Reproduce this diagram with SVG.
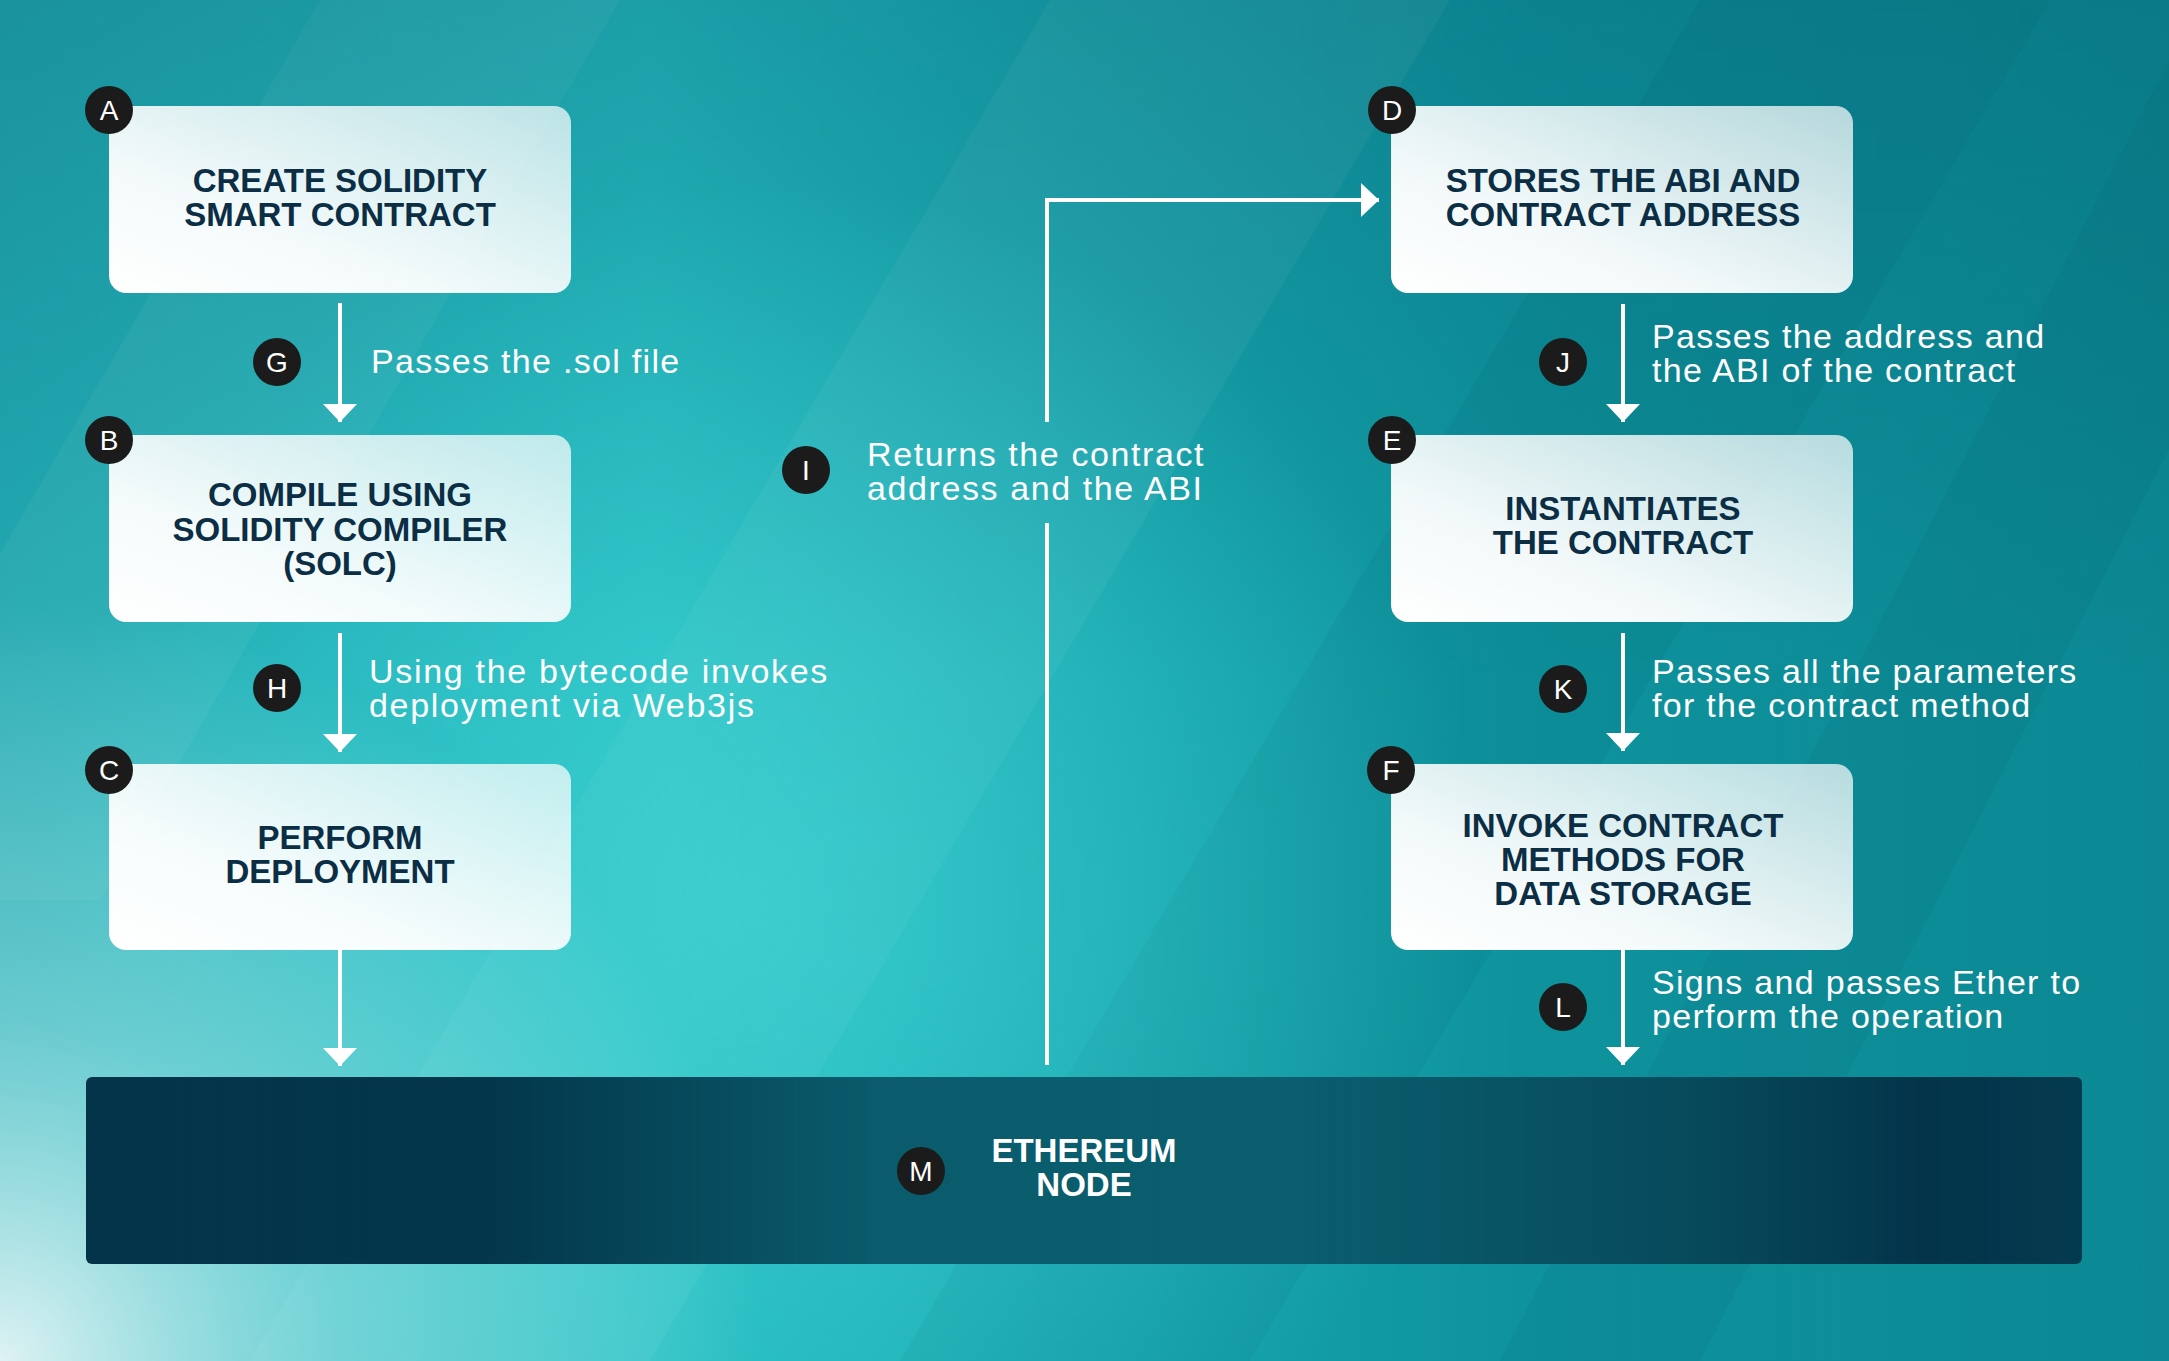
<svg xmlns="http://www.w3.org/2000/svg" width="2169" height="1361" viewBox="0 0 2169 1361">
  <defs>
    <linearGradient id="bgBase" x1="0" y1="0" x2="2169" y2="0" gradientUnits="userSpaceOnUse">
      <stop offset="0" stop-color="#22aab2"/>
      <stop offset="0.3" stop-color="#25bcc0"/>
      <stop offset="0.5" stop-color="#17a6ae"/>
      <stop offset="0.7" stop-color="#0e939d"/>
      <stop offset="1" stop-color="#0b8893"/>
    </linearGradient>
    <linearGradient id="bgTop" x1="0" y1="0" x2="0" y2="1361" gradientUnits="userSpaceOnUse">
      <stop offset="0" stop-color="#05566a" stop-opacity="0.28"/>
      <stop offset="0.5" stop-color="#05566a" stop-opacity="0"/>
      <stop offset="1" stop-color="#05566a" stop-opacity="0"/>
    </linearGradient>
    <radialGradient id="glowBL" cx="0" cy="1361" r="760" gradientUnits="userSpaceOnUse">
      <stop offset="0" stop-color="#ffffff" stop-opacity="0.85"/>
      <stop offset="0.45" stop-color="#bff1f1" stop-opacity="0.45"/>
      <stop offset="1" stop-color="#bff1f1" stop-opacity="0"/>
    </radialGradient>
    <radialGradient id="glowC" cx="760" cy="900" r="720" gradientUnits="userSpaceOnUse">
      <stop offset="0" stop-color="#46d9d9" stop-opacity="0.6"/>
      <stop offset="1" stop-color="#46d9d9" stop-opacity="0"/>
    </radialGradient>
    <linearGradient id="boxFill" x1="0" y1="1" x2="1" y2="0">
      <stop offset="0" stop-color="#ffffff" stop-opacity="1"/>
      <stop offset="0.35" stop-color="#ffffff" stop-opacity="0.95"/>
      <stop offset="1" stop-color="#ffffff" stop-opacity="0.7"/>
    </linearGradient>
    <linearGradient id="nodeFill" x1="0" y1="0" x2="1" y2="0">
      <stop offset="0" stop-color="#04344a"/>
      <stop offset="0.2" stop-color="#03364b"/>
      <stop offset="0.4" stop-color="#0a5c6c"/>
      <stop offset="0.6" stop-color="#0a5e6e"/>
      <stop offset="0.8" stop-color="#074b5d"/>
      <stop offset="0.92" stop-color="#03344a"/>
      <stop offset="1" stop-color="#043a4f"/>
    </linearGradient>
    <marker id="arrow" viewBox="0 -17 18 34" refX="18" refY="0" markerWidth="18" markerHeight="34" markerUnits="userSpaceOnUse" orient="auto">
      <path d="M0,-17 L18,0 L0,17 Z" fill="#ffffff"/>
    </marker>
    <style>
      .box { fill: url(#boxFill); }
      .title { font-family: "Liberation Sans", Arial, sans-serif; font-weight: bold; font-size: 33px; fill: #0b2e45; text-anchor: middle; }
      .label { font-family: "Liberation Sans", Arial, sans-serif; font-size: 34px; fill: #ffffff; letter-spacing: 1.3px; }
      .badge circle { fill: #1b1b1b; }
      .badge text { font-family: "Liberation Sans", Arial, sans-serif; font-size: 28px; fill: #ffffff; text-anchor: middle; }
      .conn { stroke: #ffffff; stroke-width: 4; fill: none; }
    </style>
  </defs>

  <!-- background -->
  <g id="background">
    <rect x="0" y="0" width="2169" height="1361" fill="url(#bgBase)"/>
    <polygon points="250,1361 650,1361 1450,0 1050,0" fill="#ffffff" fill-opacity="0.06"/>
    <polygon points="-200,900 100,900 620,0 320,0" fill="#ffffff" fill-opacity="0.05"/>
    <polygon points="900,1361 1250,1361 2050,0 1700,0" fill="#00485a" fill-opacity="0.08"/>
    <polygon points="1500,1361 1700,1361 2400,0 2200,0" fill="#00485a" fill-opacity="0.07"/>
    <rect x="0" y="0" width="2169" height="1361" fill="url(#bgTop)"/>
    <rect x="0" y="0" width="2169" height="1361" fill="url(#glowC)"/>
    <rect x="0" y="0" width="2169" height="1361" fill="url(#glowBL)"/>
  </g>

  <!-- connectors -->
  <g id="connectors">
    <path class="conn" d="M340,303 V422" marker-end="url(#arrow)"/>
    <path class="conn" d="M340,633 V752" marker-end="url(#arrow)"/>
    <path class="conn" d="M340,950 V1066" marker-end="url(#arrow)"/>
    <path class="conn" d="M1623,304 V422" marker-end="url(#arrow)"/>
    <path class="conn" d="M1623,633 V751" marker-end="url(#arrow)"/>
    <path class="conn" d="M1623,950 V1065" marker-end="url(#arrow)"/>
    <path class="conn" d="M1047,1065 V523"/>
    <path class="conn" d="M1047,422 V200 H1379" marker-end="url(#arrow)"/>
  </g>

  <!-- nodes -->
  <g id="node-A">
    <rect class="box" x="109" y="106" width="462" height="187" rx="17"/>
    <text class="title" x="340" y="192">CREATE SOLIDITY</text>
    <text class="title" x="340" y="226">SMART CONTRACT</text>
    <g class="badge"><circle cx="109" cy="110" r="24"/><text x="109" y="120">A</text></g>
  </g>
  <g id="node-B">
    <rect class="box" x="109" y="435" width="462" height="187" rx="17"/>
    <text class="title" x="340" y="506">COMPILE USING</text>
    <text class="title" x="340" y="541">SOLIDITY COMPILER</text>
    <text class="title" x="340" y="575">(SOLC)</text>
    <g class="badge"><circle cx="109" cy="440" r="24"/><text x="109" y="450">B</text></g>
  </g>
  <g id="node-C">
    <rect class="box" x="109" y="764" width="462" height="186" rx="17"/>
    <text class="title" x="340" y="849">PERFORM</text>
    <text class="title" x="340" y="883">DEPLOYMENT</text>
    <g class="badge"><circle cx="109" cy="770" r="24"/><text x="109" y="780">C</text></g>
  </g>
  <g id="node-D">
    <rect class="box" x="1391" y="106" width="462" height="187" rx="17"/>
    <text class="title" x="1623" y="192">STORES THE ABI AND</text>
    <text class="title" x="1623" y="226">CONTRACT ADDRESS</text>
    <g class="badge"><circle cx="1392" cy="110" r="24"/><text x="1392" y="120">D</text></g>
  </g>
  <g id="node-E">
    <rect class="box" x="1391" y="435" width="462" height="187" rx="17"/>
    <text class="title" x="1623" y="520">INSTANTIATES</text>
    <text class="title" x="1623" y="554">THE CONTRACT</text>
    <g class="badge"><circle cx="1392" cy="440" r="24"/><text x="1392" y="450">E</text></g>
  </g>
  <g id="node-F">
    <rect class="box" x="1391" y="764" width="462" height="186" rx="17"/>
    <text class="title" x="1623" y="837">INVOKE CONTRACT</text>
    <text class="title" x="1623" y="871">METHODS FOR</text>
    <text class="title" x="1623" y="905">DATA STORAGE</text>
    <g class="badge"><circle cx="1391" cy="770" r="24"/><text x="1391" y="780">F</text></g>
  </g>
  <g id="node-M">
    <rect x="86" y="1077" width="1996" height="187" rx="6" fill="url(#nodeFill)"/>
    <text class="title" x="1084" y="1162" style="fill:#ffffff">ETHEREUM</text>
    <text class="title" x="1084" y="1196" style="fill:#ffffff">NODE</text>
    <g class="badge"><circle cx="921" cy="1171" r="24"/><text x="921" y="1181">M</text></g>
  </g>

  <!-- connector labels -->
  <g id="label-G">
    <g class="badge"><circle cx="277" cy="362" r="24"/><text x="277" y="372">G</text></g>
    <text class="label" x="371" y="373">Passes the .sol file</text>
  </g>
  <g id="label-H">
    <g class="badge"><circle cx="277" cy="688" r="24"/><text x="277" y="698">H</text></g>
    <text class="label" x="369" y="683" style="letter-spacing:1.7px">Using the bytecode invokes</text>
    <text class="label" x="369" y="717" style="letter-spacing:1.7px">deployment via Web3js</text>
  </g>
  <g id="label-I">
    <g class="badge"><circle cx="806" cy="470" r="24"/><text x="806" y="480">I</text></g>
    <text class="label" x="867" y="466" style="letter-spacing:1.6px">Returns the contract</text>
    <text class="label" x="867" y="500" style="letter-spacing:1.6px">address and the ABI</text>
  </g>
  <g id="label-J">
    <g class="badge"><circle cx="1563" cy="362" r="24"/><text x="1563" y="372">J</text></g>
    <text class="label" x="1652" y="348">Passes the address and</text>
    <text class="label" x="1652" y="382">the ABI of the contract</text>
  </g>
  <g id="label-K">
    <g class="badge"><circle cx="1563" cy="689" r="24"/><text x="1563" y="699">K</text></g>
    <text class="label" x="1652" y="683">Passes all the parameters</text>
    <text class="label" x="1652" y="717">for the contract method</text>
  </g>
  <g id="label-L">
    <g class="badge"><circle cx="1563" cy="1007" r="24"/><text x="1563" y="1017">L</text></g>
    <text class="label" x="1652" y="994">Signs and passes Ether to</text>
    <text class="label" x="1652" y="1028">perform the operation</text>
  </g>
</svg>
